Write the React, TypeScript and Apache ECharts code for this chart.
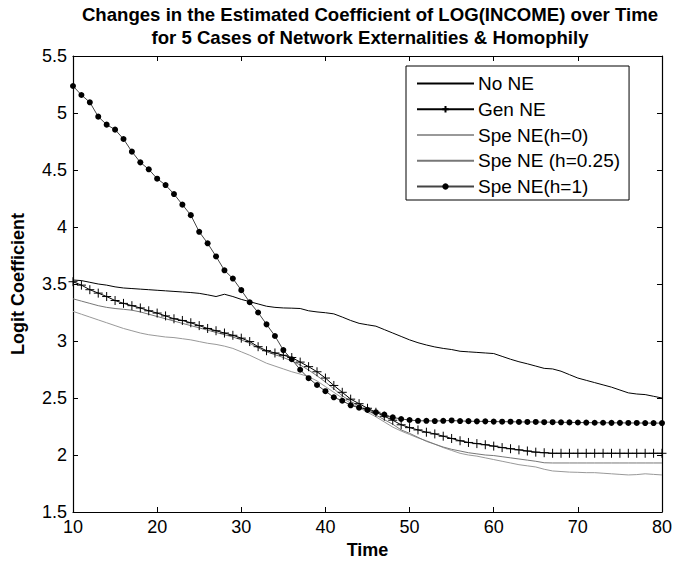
import React, { useEffect, useRef } from "react";
import * as echarts from "echarts";

const TIME = [
  10, 11, 12, 13, 14, 15, 16, 17, 18, 19,
  20, 21, 22, 23, 24, 25, 26, 27, 28, 29,
  30, 31, 32, 33, 34, 35, 36, 37, 38, 39,
  40, 41, 42, 43, 44, 45, 46, 47, 48, 49,
  50, 51, 52, 53, 54, 55, 56, 57, 58, 59,
  60, 61, 62, 63, 64, 65, 66, 67, 68, 69,
  70, 71, 72, 73, 74, 75, 76, 77, 78, 79,
  80,
];

const NO_NE = [
  3.535, 3.53, 3.515, 3.5, 3.49, 3.475, 3.465, 3.46, 3.455, 3.45,
  3.445, 3.44, 3.435, 3.43, 3.425, 3.418, 3.405, 3.39, 3.41, 3.39,
  3.365, 3.345, 3.325, 3.305, 3.295, 3.29, 3.288, 3.285, 3.265, 3.255,
  3.248, 3.238, 3.21, 3.18, 3.155, 3.142, 3.13, 3.1, 3.07, 3.04,
  3.01, 2.985, 2.965, 2.948, 2.935, 2.925, 2.91, 2.905, 2.9, 2.895,
  2.89, 2.865, 2.84, 2.818, 2.8, 2.78, 2.76, 2.755, 2.735, 2.705,
  2.675, 2.655, 2.635, 2.615, 2.595, 2.57, 2.545, 2.535, 2.53, 2.515,
  2.5,
];

const GEN_NE = [
  3.52, 3.49, 3.45, 3.42, 3.39, 3.355, 3.33, 3.31, 3.29, 3.265,
  3.245, 3.22, 3.195, 3.18, 3.16, 3.135, 3.11, 3.09, 3.07, 3.05,
  3.025, 2.995, 2.95, 2.915, 2.895, 2.875, 2.855, 2.815, 2.775, 2.73,
  2.675, 2.61, 2.55, 2.49, 2.45, 2.41, 2.375, 2.34, 2.305, 2.265,
  2.24, 2.22, 2.2, 2.185, 2.165, 2.145, 2.125, 2.11, 2.1, 2.09,
  2.078, 2.065, 2.055, 2.045, 2.035, 2.025, 2.02, 2.015, 2.015, 2.015,
  2.015, 2.015, 2.015, 2.015, 2.015, 2.015, 2.015, 2.015, 2.015, 2.015,
  2.015,
];

const SPE_H0 = [
  3.26, 3.235, 3.21, 3.185, 3.16, 3.135, 3.11, 3.09, 3.07, 3.055,
  3.045, 3.035, 3.03, 3.02, 3.01, 2.995, 2.98, 2.97, 2.955, 2.935,
  2.905, 2.875, 2.84, 2.805, 2.78, 2.755, 2.73, 2.71, 2.687, 2.65,
  2.6, 2.55, 2.5, 2.455, 2.415, 2.375, 2.335, 2.29, 2.245, 2.21,
  2.18, 2.15, 2.125, 2.095, 2.065, 2.04, 2.015, 2.0, 1.99, 1.975,
  1.96, 1.945, 1.93, 1.915, 1.905, 1.895, 1.875, 1.86, 1.855, 1.85,
  1.848, 1.845, 1.845, 1.84, 1.835, 1.83, 1.825, 1.828, 1.835, 1.83,
  1.825,
];

const SPE_H025 = [
  3.37, 3.35, 3.33, 3.31, 3.295, 3.285, 3.278, 3.27, 3.255, 3.235,
  3.215, 3.195, 3.175, 3.155, 3.135, 3.115, 3.095, 3.075, 3.055, 3.035,
  3.01, 2.98, 2.94, 2.905, 2.88, 2.855, 2.825, 2.79, 2.745, 2.695,
  2.64, 2.58, 2.52, 2.47, 2.43, 2.39, 2.35, 2.31, 2.27, 2.22,
  2.19, 2.155, 2.12, 2.095, 2.07, 2.05, 2.035, 2.02, 2.01, 2.0,
  1.995, 1.985, 1.975, 1.965, 1.955, 1.945, 1.932, 1.93, 1.93, 1.93,
  1.93, 1.93, 1.93, 1.93, 1.93, 1.93, 1.93, 1.93, 1.93, 1.93,
  1.93,
];

const SPE_H1 = [
  5.237, 5.158, 5.094, 4.968, 4.898, 4.854, 4.772, 4.661, 4.567, 4.506,
  4.424, 4.368, 4.289, 4.196, 4.104, 3.958, 3.857, 3.742, 3.62, 3.548,
  3.446, 3.34, 3.25, 3.146, 3.044, 2.92, 2.84, 2.748, 2.674, 2.614,
  2.56, 2.506, 2.476, 2.436, 2.415, 2.395, 2.375, 2.354, 2.33, 2.316,
  2.307, 2.3, 2.3, 2.298, 2.3, 2.303, 2.298, 2.297, 2.295, 2.295,
  2.293, 2.292, 2.292, 2.29, 2.29, 2.29, 2.288, 2.288, 2.287, 2.286,
  2.285, 2.284, 2.283, 2.283, 2.282, 2.282, 2.281, 2.281, 2.28, 2.28,
  2.28,
];

const SERIES_NAMES = [
  "No NE",
  "Gen NE",
  "Spe NE(h=0)",
  "Spe NE (h=0.25)",
  "Spe NE(h=1)",
];

const TITLE = "Changes in the Estimated Coefficient of LOG(INCOME) over Time\nfor 5 Cases of Network Externalities & Homophily";
const X_NAME = "Time";
const Y_NAME = "Logit Coefficient";

const FONT = "'Liberation Sans', Arial, sans-serif";

function pairs(vals: number[]) {
  return TIME.map((t, i) => [t, vals[i]]);
}

const HIDDEN_SYMBOL = { color: "transparent", borderColor: "transparent", borderWidth: 0 };

export default function App() {
  const ref = useRef<HTMLDivElement>(null);

  useEffect(() => {
    if (!ref.current) return;
    const chart = echarts.init(ref.current, undefined, { renderer: "svg" });

    const tickStyle = { inside: true, length: 5, lineStyle: { color: "#000", width: 1 } };
    const axisLine = { show: true, onZero: false, lineStyle: { color: "#000", width: 1.2 } };

    chart.setOption({
      animation: false,
      backgroundColor: "#fff",
      textStyle: { fontFamily: FONT },
      title: {
        text: TITLE,
        left: 370,
        top: 3,
        padding: 0,
        textAlign: "center",
        textStyle: {
          fontFamily: FONT,
          fontSize: 18.6,
          fontWeight: "bold",
          color: "#000",
          lineHeight: 23,
        },
      },
      legend: {
        orient: "vertical",
        left: 406,
        top: 66,
        data: [
          { name: SERIES_NAMES[0], itemStyle: HIDDEN_SYMBOL },
          { name: SERIES_NAMES[1] },
          { name: SERIES_NAMES[2], itemStyle: HIDDEN_SYMBOL },
          { name: SERIES_NAMES[3], itemStyle: HIDDEN_SYMBOL },
          { name: SERIES_NAMES[4] },
        ],
        backgroundColor: "#fff",
        borderColor: "#000",
        borderWidth: 1,
        padding: [8, 9, 4, 10],
        itemWidth: 57,
        itemHeight: 8,
        itemGap: 6.75,
        textStyle: {
          fontFamily: FONT,
          fontSize: 19,
          color: "#000",
          lineHeight: 18,
          padding: [0, 0, 0, -1],
        },
      },
      grid: { left: 73, right: 11, top: 56, bottom: 54, containLabel: false },
      xAxis: [
        {
          type: "value",
          min: 10,
          max: 80,
          interval: 10,
          name: X_NAME,
          nameLocation: "middle",
          nameGap: 28,
          nameTextStyle: { fontFamily: FONT, fontSize: 18, fontWeight: "bold", color: "#000" },
          axisLine,
          axisTick: tickStyle,
          axisLabel: { fontFamily: FONT, fontSize: 18, color: "#000", margin: 6 },
          splitLine: { show: false },
        },
        {
          type: "value",
          position: "top",
          min: 10,
          max: 80,
          interval: 10,
          axisLine,
          axisTick: tickStyle,
          axisLabel: { show: false },
          splitLine: { show: false },
        },
      ],
      yAxis: [
        {
          type: "value",
          min: 1.5,
          max: 5.5,
          interval: 0.5,
          name: Y_NAME,
          nameLocation: "middle",
          nameRotate: 90,
          nameGap: 46,
          nameTextStyle: { fontFamily: FONT, fontSize: 18, fontWeight: "bold", color: "#000" },
          axisLine,
          axisTick: tickStyle,
          axisLabel: { fontFamily: FONT, fontSize: 18, color: "#000", margin: 6 },
          splitLine: { show: false },
        },
        {
          type: "value",
          position: "right",
          min: 1.5,
          max: 5.5,
          interval: 0.5,
          axisLine,
          axisTick: tickStyle,
          axisLabel: { show: false },
          splitLine: { show: false },
        },
      ],
      series: [
        {
          name: SERIES_NAMES[0],
          type: "line",
          data: pairs(NO_NE),
          symbol: "none",
          lineStyle: { color: "#000", width: 1 },
          itemStyle: { color: "#000" },
        },
        {
          name: SERIES_NAMES[2],
          type: "line",
          data: pairs(SPE_H0),
          symbol: "none",
          lineStyle: { color: "#999", width: 1 },
          itemStyle: { color: "#999" },
        },
        {
          name: SERIES_NAMES[3],
          type: "line",
          data: pairs(SPE_H025),
          symbol: "none",
          lineStyle: { color: "#777", width: 1 },
          itemStyle: { color: "#777" },
        },
        {
          name: SERIES_NAMES[1],
          type: "line",
          data: pairs(GEN_NE),
          symbol: "path://M5,0 L5,10 M0,5 L10,5",
          symbolSize: 9,
          showAllSymbol: true,
          lineStyle: { color: "#000", width: 1 },
          itemStyle: { color: "none", borderColor: "#000", borderWidth: 1 },
        },
        {
          name: SERIES_NAMES[4],
          type: "line",
          data: pairs(SPE_H1),
          symbol: "circle",
          symbolSize: 6,
          showAllSymbol: true,
          lineStyle: { color: "#444", width: 1 },
          itemStyle: { color: "#000", borderWidth: 0 },
        },
      ],
    });

    return () => chart.dispose();
  }, []);

  return (
    <div
      ref={ref}
      style={{ position: "fixed", left: 0, top: 0, width: 675, height: 566, background: "#fff" }}
    />
  );
}
